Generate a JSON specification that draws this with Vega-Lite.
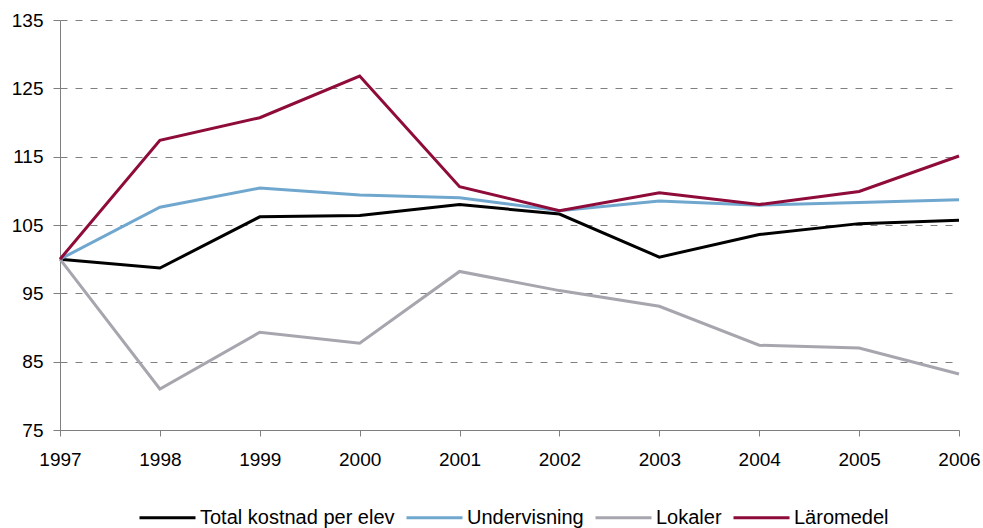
{
  "$schema": "https://vega.github.io/schema/vega-lite/v6.json",
  "width": 899,
  "height": 410,
  "autosize": {"type": "none"},
  "padding": {"left": 60, "top": 20, "right": 24, "bottom": 98},
  "background": "white",
  "config": {
    "view": {"stroke": null},
    "font": "Liberation Sans"
  },
  "data": {
    "values": [
      {"year": 1997, "serie": "Total kostnad per elev", "value": 100},
      {"year": 1998, "serie": "Total kostnad per elev", "value": 98.7},
      {"year": 1999, "serie": "Total kostnad per elev", "value": 106.2},
      {"year": 2000, "serie": "Total kostnad per elev", "value": 106.4},
      {"year": 2001, "serie": "Total kostnad per elev", "value": 108.0},
      {"year": 2002, "serie": "Total kostnad per elev", "value": 106.6},
      {"year": 2003, "serie": "Total kostnad per elev", "value": 100.3},
      {"year": 2004, "serie": "Total kostnad per elev", "value": 103.6},
      {"year": 2005, "serie": "Total kostnad per elev", "value": 105.2},
      {"year": 2006, "serie": "Total kostnad per elev", "value": 105.7},
      {"year": 1997, "serie": "Undervisning", "value": 100},
      {"year": 1998, "serie": "Undervisning", "value": 107.6},
      {"year": 1999, "serie": "Undervisning", "value": 110.4},
      {"year": 2000, "serie": "Undervisning", "value": 109.4},
      {"year": 2001, "serie": "Undervisning", "value": 109.0},
      {"year": 2002, "serie": "Undervisning", "value": 107.1},
      {"year": 2003, "serie": "Undervisning", "value": 108.5},
      {"year": 2004, "serie": "Undervisning", "value": 107.9},
      {"year": 2005, "serie": "Undervisning", "value": 108.3},
      {"year": 2006, "serie": "Undervisning", "value": 108.7},
      {"year": 1997, "serie": "Lokaler", "value": 100},
      {"year": 1998, "serie": "Lokaler", "value": 81.0},
      {"year": 1999, "serie": "Lokaler", "value": 89.3},
      {"year": 2000, "serie": "Lokaler", "value": 87.7},
      {"year": 2001, "serie": "Lokaler", "value": 98.2},
      {"year": 2002, "serie": "Lokaler", "value": 95.4},
      {"year": 2003, "serie": "Lokaler", "value": 93.1},
      {"year": 2004, "serie": "Lokaler", "value": 87.4},
      {"year": 2005, "serie": "Lokaler", "value": 87.0},
      {"year": 2006, "serie": "Lokaler", "value": 83.2},
      {"year": 1997, "serie": "Läromedel", "value": 100},
      {"year": 1998, "serie": "Läromedel", "value": 117.4},
      {"year": 1999, "serie": "Läromedel", "value": 120.7},
      {"year": 2000, "serie": "Läromedel", "value": 126.8},
      {"year": 2001, "serie": "Läromedel", "value": 110.6},
      {"year": 2002, "serie": "Läromedel", "value": 107.1},
      {"year": 2003, "serie": "Läromedel", "value": 109.7},
      {"year": 2004, "serie": "Läromedel", "value": 108.0},
      {"year": 2005, "serie": "Läromedel", "value": 109.9},
      {"year": 2006, "serie": "Läromedel", "value": 115.1}
    ]
  },
  "mark": {"type": "line", "strokeWidth": 3, "strokeJoin": "miter"},
  "encoding": {
    "x": {
      "field": "year",
      "type": "quantitative",
      "scale": {"domain": [1997, 2006], "nice": false, "zero": false},
      "axis": {
        "title": null,
        "values": [1997, 1998, 1999, 2000, 2001, 2002, 2003, 2004, 2005, 2006],
        "format": "d",
        "grid": false,
        "domainColor": "#7f7f7f",
        "tickColor": "#7f7f7f",
        "tickSize": 6,
        "labelFontSize": 19,
        "labelColor": "#000000",
        "labelPadding": 14,
        "labelFlush": false,
        "labelOverlap": false
      }
    },
    "y": {
      "field": "value",
      "type": "quantitative",
      "scale": {"domain": [75, 135], "nice": false, "zero": false},
      "axis": {
        "title": null,
        "values": [75, 85, 95, 105, 115, 125, 135],
        "grid": true,
        "gridDash": [7, 8],
        "gridColor": "#808080",
        "gridWidth": 1,
        "domainColor": "#7f7f7f",
        "tickColor": "#7f7f7f",
        "tickSize": 7,
        "labelFontSize": 19,
        "labelColor": "#000000",
        "labelPadding": 10,
        "labelFlush": false
      }
    },
    "color": {
      "field": "serie",
      "type": "nominal",
      "scale": {
        "domain": ["Total kostnad per elev", "Undervisning", "Lokaler", "Läromedel"],
        "range": ["#000000", "#70A7CF", "#A7A6AE", "#8E0B3A"]
      },
      "legend": {
        "title": null,
        "orient": "none",
        "legendX": 78,
        "legendY": 468,
        "direction": "horizontal",
        "symbolType": "stroke",
        "symbolSize": 3136,
        "symbolStrokeWidth": 3,
        "labelFontSize": 20,
        "labelColor": "#000000",
        "labelOffset": 3,
        "columnPadding": 5,
        "labelLimit": 400
      }
    }
  }
}
